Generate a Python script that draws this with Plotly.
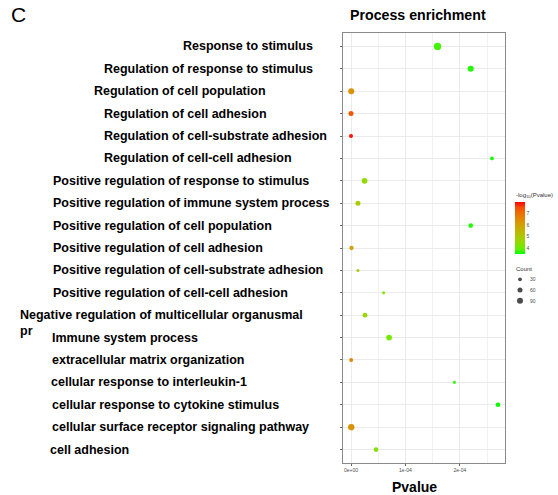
import numpy as np
import plotly.graph_objects as go

# GO terms, top to bottom
terms = [
    "Response to stimulus",
    "Regulation of response to stimulus",
    "Regulation of cell population",
    "Regulation of cell adhesion",
    "Regulation of cell-substrate adhesion",
    "Regulation of cell-cell adhesion",
    "Positive regulation of response to stimulus",
    "Positive regulation of immune system process",
    "Positive regulation of cell population",
    "Positive regulation of cell adhesion",
    "Positive regulation of cell-substrate adhesion",
    "Positive regulation of cell-cell adhesion",
    "Negative regulation of multicellular organusmal<br>pr",
    "Immune system process",
    "extracellular matrix organization",
    "cellular response to interleukin-1",
    "cellular response to cytokine stimulus",
    "cellular surface receptor signaling pathway",
    "cell adhesion",
]
pvalues = [
    1.59e-4, 2.20e-4, 5.0e-7, 4.0e-8, 1.3e-8, 2.59e-4,
    2.5e-5, 1.28e-5, 2.20e-4, 1.0e-6, 1.28e-5, 6.0e-5,
    2.57e-5, 7.0e-5, 3.0e-7, 1.90e-4, 2.70e-4, 5.0e-7, 4.6e-5,
]
counts = [
    150, 99, 99, 67, 40, 33,
    89, 67, 58, 48, 20, 20,
    58, 89, 40, 20, 58, 111, 58,
]
x_ticks = [0, 1e-4, 2e-4]
x_ticktext = ["0e+00", "1e-04", "2e-04"]
color_ticks = [4, 5, 6, 7]
count_breaks = [30, 60, 90]

# page geometry (px)
W, H = 558, 495
P_L, P_R, P_T, P_B = 343, 505, 33, 463
# left edge of each row label (px)
label_left = [181, 101.7, 92, 101.7, 101.7, 101.7, 50.7, 50.7, 50.7, 50.7,
              50.7, 50.7, 18.3, 50, 50, 49.3, 50, 50, 48.3]


def px_x(v):
    return v / W


def px_y(v):
    return 1 - v / H


# green -> red gradient interpolated in CIELAB
def _lin(c):
    return np.where(c <= 0.04045, c / 12.92, ((c + 0.055) / 1.055) ** 2.4)


def _gam(c):
    c = np.clip(c, 0, 1)
    return np.where(c <= 0.0031308, 12.92 * c, 1.055 * c ** (1 / 2.4) - 0.055)


M = np.array([[0.4124, 0.3576, 0.1805], [0.2126, 0.7152, 0.0722], [0.0193, 0.1192, 0.9505]])
WP = np.array([0.95047, 1.0, 1.08883])


def to_lab(rgb):
    xyz = M @ _lin(np.array(rgb) / 255.0) / WP
    f = np.where(xyz > 0.008856, np.cbrt(xyz), 7.787 * xyz + 16 / 116)
    return np.array([116 * f[1] - 16, 500 * (f[0] - f[1]), 200 * (f[1] - f[2])])


def from_lab(lab):
    fy = (lab[0] + 16) / 116
    fx = fy + lab[1] / 500
    fz = fy - lab[2] / 200
    f = np.array([fx, fy, fz])
    xyz = np.where(f ** 3 > 0.008856, f ** 3, (f - 16 / 116) / 7.787) * WP
    rgb = _gam(np.linalg.inv(M) @ xyz)
    return "rgb(%d,%d,%d)" % tuple(np.round(rgb * 255).astype(int))


lo, hi = to_lab((0, 255, 0)), to_lab((255, 0, 0))
colorscale = [[t, from_lab(lo + (hi - lo) * t)] for t in np.linspace(0, 1, 11)]

neglog = -np.log10(np.array(pvalues))
cmin, cmax = 3.51, 8.0


def diam(c):
    return np.sqrt(2.4 + 0.338 * np.array(c, dtype=float))


HEAVY = "Liberation Sans Narrow, Arial Narrow, Liberation Sans, Arial"
LABEL_FONT = dict(family=HEAVY, size=12.5, color="black", weight="bold")
TINY = dict(family="Liberation Sans, Arial", size=5, color="#4d4d4d")

fig = go.Figure()
fig.add_trace(go.Scatter(
    x=pvalues, y=terms, mode="markers", showlegend=False, hoverinfo="skip",
    marker=dict(
        size=diam(counts), color=neglog, colorscale=colorscale, cmin=cmin, cmax=cmax,
        line=dict(width=0), opacity=1,
        colorbar=dict(
            x=px_x(515), xanchor="left", y=px_y(201.7), yanchor="top",
            len=52, lenmode="pixels", thickness=10, thicknessmode="pixels",
            outlinewidth=0, tickvals=color_ticks, ticks="", tickfont=TINY,
            xpad=0, ypad=0,
        ),
    ),
))

# size legend
fig.add_trace(go.Scatter(
    x=[0] * len(count_breaks), y=list(range(len(count_breaks))), xaxis="x2", yaxis="y2",
    mode="markers", showlegend=False, hoverinfo="skip", cliponaxis=False,
    marker=dict(size=diam(count_breaks) + 0.3, color="black", line=dict(width=0)),
))

ann = []
for t, lx in zip(terms, label_left):
    two_line = "<br>" in t
    ann.append(dict(
        text=t, xref="paper", yref="y", x=px_x(lx), y=t, xanchor="left",
        yanchor="top" if two_line else "middle", yshift=9 if two_line else 0,
        align="left", showarrow=False, font=LABEL_FONT,
    ))

# size legend labels
for i, c in enumerate(count_breaks):
    ann.append(dict(text=str(c), xref="paper", yref="y2", x=px_x(528), y=i, xanchor="left",
                    yanchor="middle", showarrow=False, font=TINY))

ann += [
    dict(text="C", xref="paper", yref="paper", x=px_x(9), y=px_y(15), xanchor="left", yanchor="middle",
         showarrow=False, font=dict(family="Liberation Sans, Arial", size=21, color="black")),
    dict(text="Process enrichment", xref="paper", yref="paper", x=px_x(418), y=px_y(15), xanchor="center",
         yanchor="middle", showarrow=False, font=dict(family=HEAVY, size=14.2, color="black", weight="bold")),
    dict(text="Pvalue", xref="paper", yref="paper", x=px_x(414.5), y=px_y(486.5), xanchor="center",
         yanchor="middle", showarrow=False, font=dict(family=HEAVY, size=14, color="black", weight="bold")),
    dict(text="-log<sub>10</sub>(Pvalue)", xref="paper", yref="paper", x=px_x(514), y=px_y(195), xanchor="left",
         yanchor="middle", showarrow=False, font=dict(family="Liberation Sans, Arial", size=6, color="#333")),
    dict(text="Count", xref="paper", yref="paper", x=px_x(514), y=px_y(269), xanchor="left",
         yanchor="middle", showarrow=False, font=dict(family="Liberation Sans, Arial", size=6, color="#333")),
]

fig.update_layout(
    width=W, height=H, margin=dict(l=0, r=0, t=0, b=0),
    paper_bgcolor="white", plot_bgcolor="white",
    annotations=ann,
    xaxis=dict(
        domain=[px_x(P_L), px_x(P_R)], range=[-0.147e-4, 2.83e-4],
        tickvals=x_ticks, ticktext=x_ticktext, tickfont=TINY,
        ticks="outside", ticklen=2, tickcolor="#666", tickwidth=0.6,
        showgrid=True, gridcolor="#ebebeb", gridwidth=1,
        minor=dict(dtick=0.5e-4, tick0=0, showgrid=True, gridcolor="#f2f2f2", gridwidth=0.8),
        showline=True, mirror=True, linecolor="#8a8a8a", linewidth=1.2,
        zeroline=False, fixedrange=True,
    ),
    yaxis=dict(
        domain=[px_y(P_B), px_y(P_T)], type="category",
        categoryorder="array", categoryarray=terms, range=[len(terms) - 0.4, -0.6],
        showticklabels=False, ticks="outside", ticklen=2, tickcolor="#666", tickwidth=0.6,
        showgrid=True, gridcolor="#ebebeb", gridwidth=1,
        showline=True, mirror=True, linecolor="#8a8a8a", linewidth=1.2,
        zeroline=False, fixedrange=True,
    ),
    xaxis2=dict(domain=[px_x(515), px_x(525)], range=[-1, 1], visible=False, anchor="y2", fixedrange=True),
    yaxis2=dict(domain=[px_y(306), px_y(274)], range=[2.5, -0.5], visible=False, anchor="x2", fixedrange=True),
)

fig.write_html("out.html")
